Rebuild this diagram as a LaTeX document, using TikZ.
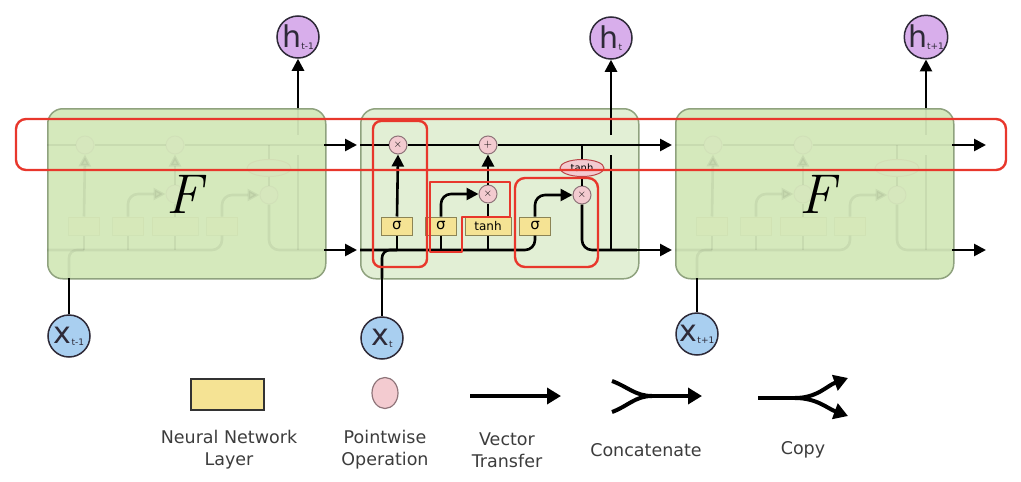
\documentclass[tikz,border=0pt]{standalone}
\usepackage{fontspec}
\newfontfamily\dv{DejaVu Sans}
\usetikzlibrary{arrows.meta,shapes.geometric}
\definecolor{fgreen}{HTML}{D5E9BC}
\definecolor{mgreen}{HTML}{E2EFD5}
\definecolor{bgreen}{HTML}{8FA27E}
\definecolor{nnfill}{HTML}{F5E394}
\definecolor{nndraw}{HTML}{8C8455}
\definecolor{pwfill}{HTML}{F3CBD0}
\definecolor{pwdraw}{HTML}{8E7479}
\definecolor{hfill}{HTML}{D8AEEB}
\definecolor{xfill}{HTML}{A9CFF0}
\definecolor{cdraw}{HTML}{2E2A38}
\definecolor{hl}{HTML}{E8372C}
\definecolor{legtext}{HTML}{3C3C3C}
\tikzset{
 every node/.style={font=\dv},
 conn/.style={line width=2.6pt, draw=black},
 arr/.style={conn, -{Triangle[length=12pt,width=12pt]}},
 nn/.style={draw=nndraw, fill=nnfill, line width=1pt, minimum width=31pt, minimum height=18pt, inner sep=0pt, font=\dv\fontsize{15}{15}\selectfont},
 pw/.style={circle, draw=pwdraw, fill=pwfill, line width=1pt, minimum size=18pt, inner sep=0pt, font=\fontsize{11}{11}\selectfont},
 tanhop/.style={ellipse, draw=pwdraw!60!red, fill=pwfill, line width=1pt, minimum width=44pt, minimum height=17pt, inner sep=0pt, font=\dv\fontsize{10}{10}\selectfont},
 cellbox/.style={rounded corners=15pt, line width=1.5pt, draw=bgreen, minimum width=278pt, minimum height=170pt, anchor=north west, inner sep=0pt},
 hnode/.style={circle, draw=cdraw, fill=hfill, line width=1.5pt, minimum size=42pt, inner sep=0pt, text=cdraw},
 xnode/.style={circle, draw=cdraw, fill=xfill, line width=1.5pt, minimum size=42pt, inner sep=0pt, text=cdraw},
 hlbox/.style={draw=hl, line width=2.4pt, rounded corners=8pt},
 legtxt/.style={text=legtext, align=center, font=\dv\fontsize{17.5}{22}\selectfont},
 legline/.style={line width=4pt, draw=black},
 legarr/.style={legline, -{Triangle[length=14pt,width=16pt]}},
 bigF/.style={font=\rmfamily\itshape\fontsize{56}{56}\selectfont},
}
\newcommand{\lbl}[1]{#1}
\newcommand{\cellinside}{%
 \node[pw] (fx) at (38,37) {\lbl{$\times$}};
 \node[pw] (pl) at (128,37) {\lbl{$+$}};
 \node[pw] (ix) at (128,86) {\lbl{$\times$}};
 \node[pw] (ox) at (222,87) {\lbl{$\times$}};
 \node[nn] (sf) at (37,118) {\lbl{σ}};
 \node[nn] (si) at (81,118) {\lbl{σ}};
 \node[nn, minimum width=46pt, font=\dv\fontsize{12}{12}\selectfont] (th) at (128,118) {\lbl{tanh}};
 \node[nn] (so) at (175,118) {\lbl{σ}};
 \node[tanhop] (tc) at (222,60) {\lbl{tanh}};
 \coordinate (cin) at (0,37);
 \coordinate (cout) at (277,37);
 \coordinate (hin) at (0,142);
 \coordinate (hout) at (277,142);
 \coordinate (xin) at (22,170);
 \coordinate (hup) at (251,0);
 \coordinate (hj) at (251,142);
 \coordinate (hga) at (251,47);
 \coordinate (hgb) at (251,27);
 \draw[conn] (cin) -- (fx) -- (pl) -- (cout);
 \draw[conn, rounded corners=10pt] (hin) -| (so.south);
 \draw[conn, rounded corners=8pt] (xin) |- (sf.south |- hin);
 \draw[conn] (sf.south |- hin) -- (sf.south);
 \draw[arr] (sf.north) -- (fx.south);
 \draw[conn] (si.south |- hin) -- (si.south);
 \draw[arr, rounded corners=10pt] (si.north) |- (ix.west);
 \draw[conn] (th.south |- hin) -- (th.south);
 \draw[conn] (th.north) -- (ix.south);
 \draw[arr] (ix.north) -- (pl.south);
 \draw[arr, rounded corners=10pt] (so.north) |- (ox.west);
 \draw[conn] (tc.north |- cin) -- (tc.north);
 \draw[conn] (tc.south) -- (ox.north);
 \draw[conn, rounded corners=10pt] (ox.south) |- (hout);
 \draw[conn] (hj) -- (hga);
 \draw[conn] (hgb) -- (hup);
}
\begin{document}
\begin{tikzpicture}[x=1pt, y=-1pt]
\useasboundingbox (0,0) rectangle (1021,482);
% cell boxes
\node[cellbox, fill=fgreen] (Lbox) at (47,108) {};
\node[cellbox, fill=mgreen] (Mbox) at (360,108) {};
\node[cellbox, fill=fgreen] (Rbox) at (675,108) {};
% ghost internals of the collapsed cells (faint, without labels)
\begin{scope}[shift={(47,108)}, name prefix=L-, opacity=0.06]
 \renewcommand{\lbl}[1]{}
 \cellinside
\end{scope}
\begin{scope}[shift={(675,108)}, name prefix=R-, opacity=0.06]
 \renewcommand{\lbl}[1]{}
 \cellinside
\end{scope}
% middle cell
\begin{scope}[shift={(360,108)}]
 \cellinside
\end{scope}
% F labels
\node[bigF] (FL) at (184,194) {F};
\node[bigF] (FR) at (817,194) {F};
% transfers between cells
\coordinate (endc) at (986,145);
\coordinate (endh) at (986,250);
\draw[arr] (L-cout) -- ([xshift=-3pt]cin);
\draw[arr] (L-hout) -- ([xshift=-3pt]hin);
\draw[arr] (cout) -- ([xshift=-3pt]R-cin);
\draw[arr] (hout) -- ([xshift=-3pt]R-hin);
\draw[arr] (R-cout) -- (endc);
\draw[arr] (R-hout) -- (endh);
% outputs and inputs
\node[hnode] (hA) at (298,37) {\fontsize{30}{30}\selectfont h\raisebox{-2pt}{\fontsize{9}{9}\selectfont t-1}};
\node[hnode] (hB) at (611,38) {\fontsize{30}{30}\selectfont h\raisebox{-2pt}{\fontsize{9}{9}\selectfont t}};
\node[hnode] (hC) at (926,37) {\fontsize{30}{30}\selectfont h\raisebox{-2pt}{\fontsize{9}{9}\selectfont t+1}};
\node[xnode] (xA) at (69,336) {\fontsize{30}{30}\selectfont x\raisebox{-2pt}{\fontsize{9}{9}\selectfont t-1}};
\node[xnode] (xB) at (382,338) {\fontsize{30}{30}\selectfont x\raisebox{-2pt}{\fontsize{9}{9}\selectfont t}};
\node[xnode] (xC) at (697,334) {\fontsize{30}{30}\selectfont x\raisebox{-2pt}{\fontsize{9}{9}\selectfont t+1}};
\draw[arr] (L-hup) -- (hA.south);
\draw[arr] (hup) -- (hB.south);
\draw[arr] (R-hup) -- (hC.south);
\draw[conn] (xA.north) -- (L-xin);
\draw[conn] (xB.north) -- (xin);
\draw[conn] (xC.north) -- (R-xin);
% red highlights
\draw[hlbox, rounded corners=10pt] (16,119) rectangle (1006,170);
\draw[hlbox] (373,121) rectangle (427,267);
\draw[draw=hl, line width=2.4pt, line join=round] (430,182) -- (510,182) -- (510,217) -- (462,217) -- (462,252) -- (430,252) -- cycle;
\draw[hlbox, rounded corners=10pt] (515,178) rectangle (598,267);
% legend
\node[draw=black!80, fill=nnfill, line width=2pt, minimum width=73pt, minimum height=31pt, inner sep=0pt] (lnn) at (227,394) {};
\node[ellipse, draw=pwdraw, fill=pwfill, line width=1.2pt, minimum width=26pt, minimum height=31pt, inner sep=0pt] (lpw) at (385,393) {};
\coordinate (vtA) at (470,396);
\coordinate (vtB) at (561,396);
\draw[legarr] (vtA) -- (vtB);
\coordinate (caA) at (612,381);
\coordinate (caB) at (612,412);
\coordinate (caM) at (652,396);
\coordinate (caE) at (702,396);
\draw[legline] (caA) to[out=-20,in=180] (caM);
\draw[legline] (caB) to[out=20,in=180] (caM);
\draw[legarr] (caM) -- (caE);
\coordinate (cpO) at (758,398);
\coordinate (cpM) at (795,398);
\coordinate (cpA) at (848,378);
\coordinate (cpB) at (848,416);
\draw[legline] (cpO) -- (cpM);
\draw[legarr] (cpM) to[out=0,in=200] (cpA);
\draw[legarr] (cpM) to[out=0,in=160] (cpB);
\node[legtxt] (tnn) at (229,450) {Neural Network\\Layer};
\node[legtxt] (tpw) at (385,450) {Pointwise\\Operation};
\node[legtxt] (tvt) at (507,450) {Vector\\Transfer};
\node[legtxt] (tca) at (646,450) {Concatenate};
\node[legtxt] (tcp) at (803,450) {Copy};
\end{tikzpicture}
\end{document}
